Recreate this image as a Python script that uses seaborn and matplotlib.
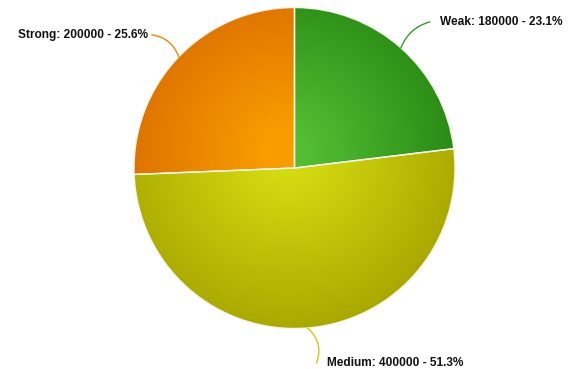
import numpy as np
import matplotlib
matplotlib.use("Agg")
import matplotlib.pyplot as plt
import seaborn as sns
from matplotlib.colors import LinearSegmentedColormap

categories = ["Weak", "Medium", "Strong"]
values = [180000, 400000, 200000]
light_colors = ["#52bc32", "#d4da10", "#f89c00"]
dark_colors = ["#268612", "#a8a600", "#d86a00"]
line_colors = ["#3a9a22", "#c8cc10", "#e88a00"]

sns.set_theme(style="white")
plt.rcParams['font.family'] = ['Liberation Sans', 'DejaVu Sans']

W, H = 571, 369
cx, cy, R = 294.5, 168.0, 160.5
fig = plt.figure(figsize=(W / 100, H / 100), dpi=100)
ax = fig.add_axes([0, 0, 1, 1])

wedges, _ = ax.pie(values, startangle=90, counterclock=False, radius=1.0,
                   colors=light_colors,
                   wedgeprops=dict(edgecolor="#f4f4e8", linewidth=1.0))

ax.set_xlim(-cx / R, (W - cx) / R)
ax.set_ylim(-(H - cy) / R, cy / R)
ax.set_aspect("equal")
ax.axis("off")

# radial gradients per wedge
n = 400
gx = np.linspace(-1.05, 1.05, n)
gxx, gyy = np.meshgrid(gx, gx)
rr = np.sqrt((gxx + 0.05) ** 2 + (gyy - 0.1) ** 2)
for w, lc, dc in zip(wedges, light_colors, dark_colors):
    cmap = LinearSegmentedColormap.from_list("g", [lc, dc])
    im = ax.imshow(rr, cmap=cmap, vmin=0.15, vmax=1.15, extent=(-1.05, 1.05, -1.05, 1.05),
                   origin="lower", zorder=w.get_zorder() + 0.1, interpolation="bilinear")
    im.set_clip_path(w)
    w.set_facecolor("none")
    w.set_zorder(w.get_zorder() + 0.2)

ax.set_xlim(-cx / R, (W - cx) / R)
ax.set_ylim(-(H - cy) / R, cy / R)

total = sum(values)
# leader line end offsets (pixels) and text offsets
offsets = {"Weak": (29, 26, 0.25, 10, "left"),
           "Medium": (9, -35, 0.35, 11, "left"),
           "Strong": (-27, 22, 0.3, -4, "right")}
for w, cat, val, col in zip(wedges, categories, values, line_colors):
    ang = np.deg2rad((w.theta1 + w.theta2) / 2)
    ax_x, ax_y = np.cos(ang), np.sin(ang)
    dx, dy, rad, tdx, ha = offsets[cat]
    ex, ey = ax_x + dx / R, ax_y + dy / R
    ax.annotate("", xy=(ax_x, ax_y), xytext=(ex, ey),
                arrowprops=dict(arrowstyle="-", color=col, lw=1.0,
                                connectionstyle=f"arc3,rad={rad if cat != 'Strong' else -rad}",
                                shrinkA=0, shrinkB=0), zorder=5)
    pct = val / total * 100
    ax.text(ex + tdx / R, ey, f"{cat}: {val} - {pct:.1f}%", ha=ha, va="center",
            fontsize=8.6, fontweight="bold", color="#111111", zorder=6)

fig.savefig("out.png", dpi=100)
